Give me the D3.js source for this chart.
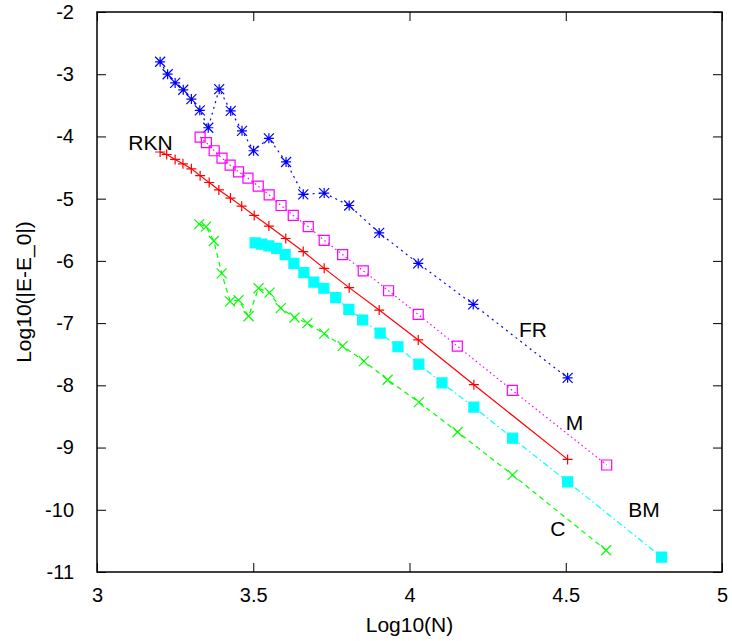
<!DOCTYPE html>
<html>
<head>
<meta charset="utf-8">
<script src="https://cdn.jsdelivr.net/npm/d3@7"></script>
<style>
    body { margin: 0; background: white; }
    text { font-family: "Liberation Sans", Arial, sans-serif; fill: black; }
</style>
</head>
<body>
<div id="canvas"></div>
<script>

// Data: [log10(N), log10(|E-E_0|)]
const frData = [
    [3.202, -2.80], [3.226, -3.00], [3.250, -3.14], [3.276, -3.25], [3.302, -3.40],
    [3.329, -3.58], [3.356, -3.86], [3.391, -3.24], [3.428, -3.59], [3.464, -3.91],
    [3.501, -4.23], [3.550, -4.03], [3.605, -4.41], [3.660, -4.93], [3.727, -4.91],
    [3.807, -5.11], [3.903, -5.55], [4.028, -6.04], [4.204, -6.70], [4.506, -7.88]
]
const mData = [
    [3.330, -4.01], [3.350, -4.10], [3.375, -4.23], [3.400, -4.35], [3.426, -4.46],
    [3.453, -4.57], [3.483, -4.67], [3.516, -4.80], [3.551, -4.94], [3.589, -5.11],
    [3.628, -5.27], [3.676, -5.45], [3.727, -5.67], [3.786, -5.90], [3.852, -6.16],
    [3.933, -6.48], [4.028, -6.86], [4.153, -7.37], [4.329, -8.08], [4.631, -9.28]
]
const rknData = [
    [3.202, -4.25], [3.223, -4.29], [3.250, -4.37], [3.275, -4.44], [3.302, -4.52],
    [3.330, -4.63], [3.359, -4.74], [3.390, -4.86], [3.427, -4.99], [3.463, -5.12],
    [3.503, -5.27], [3.550, -5.44], [3.604, -5.64], [3.660, -5.85], [3.727, -6.12],
    [3.807, -6.43], [3.903, -6.79], [4.028, -7.27], [4.206, -7.99], [4.506, -9.19]
]
const bmData = [
    [3.506, -5.71], [3.527, -5.73], [3.550, -5.76], [3.575, -5.80], [3.602, -5.90],
    [3.630, -6.04], [3.662, -6.19], [3.694, -6.34], [3.726, -6.44], [3.764, -6.59],
    [3.806, -6.78], [3.850, -6.95], [3.906, -7.16], [3.963, -7.38], [4.030, -7.66],
    [4.104, -7.96], [4.206, -8.35], [4.330, -8.85], [4.506, -9.55], [4.807, -10.76]
]
const cData = [
    [3.327, -5.41], [3.349, -5.45], [3.374, -5.68], [3.399, -6.20], [3.426, -6.65],
    [3.453, -6.63], [3.485, -6.89], [3.517, -6.44], [3.552, -6.51], [3.588, -6.76],
    [3.632, -6.91], [3.673, -7.00], [3.727, -7.17], [3.786, -7.37], [3.854, -7.61],
    [3.930, -7.91], [4.030, -8.27], [4.154, -8.75], [4.330, -9.44], [4.629, -10.65]
]

const xTicks = [3, 3.5, 4, 4.5, 5]
const yTicks = [-2, -3, -4, -5, -6, -7, -8, -9, -10, -11]

// series labels, placed in data coordinates
const labelNames = ['RKN', 'FR', 'M', 'BM', 'C']
const labelPos = [[3.1, -4.1], [4.35, -7.1], [4.5, -8.6], [4.7, -10.0], [4.45, -10.3]]

// Constants
const width = 732;
const height = 641;
const margin = { left: 97, top: 12, right: 10, bottom: 69 };
const plotW = width - margin.left - margin.right;
const plotH = height - margin.top - margin.bottom;
const tickLen = 9;

const xScale = d3.scaleLinear().domain([3, 5]).range([0, plotW])
const yScale = d3.scaleLinear().domain([-11, -2]).range([plotH, 0])

const svg = d3.select('#canvas')
    .append('svg').attr('width', width).attr('height', height);

const g = svg.append('g')
    .attr('transform', `translate(${margin.left},${margin.top})`)

// plain hyphen minus like gnuplot, not the unicode minus d3 uses
const plain = d => String(d)

// Axes - gnuplot style, ticks pointing inwards on all four sides
const xAxisBottom = d3.axisBottom(xScale).tickValues(xTicks).tickSizeInner(-tickLen).tickSizeOuter(0).tickPadding(16)
    .tickFormat(plain)
const xAxisTop = d3.axisTop(xScale).tickValues(xTicks).tickSizeInner(-tickLen).tickSizeOuter(0).tickFormat('')
const yAxisLeft = d3.axisLeft(yScale).tickValues(yTicks).tickSizeInner(-tickLen).tickSizeOuter(0).tickPadding(23)
    .tickFormat(plain)
const yAxisRight = d3.axisRight(yScale).tickValues(yTicks).tickSizeInner(-tickLen).tickSizeOuter(0).tickFormat('')

g.append('g').attr('transform', `translate(0,${plotH})`).call(xAxisBottom)
g.append('g').call(xAxisTop)
g.append('g').call(yAxisLeft)
g.append('g').attr('transform', `translate(${plotW},0)`).call(yAxisRight)

g.selectAll('.domain').remove()
g.selectAll('.tick line').attr('stroke', 'black').attr('stroke-width', 1)
g.selectAll('.tick text')
    .attr('font-size', '20px')
    .attr('font-family', '"Liberation Sans", Arial, sans-serif')
    .attr('fill', 'black')

// frame
g.append('rect')
    .attr('width', plotW).attr('height', plotH)
    .attr('fill', 'none').attr('stroke', 'black').attr('stroke-width', 1.5)

// axis titles
svg.append('text')
    .text('Log10(N)')
    .attr('x', margin.left + plotW / 2)
    .attr('y', 632)
    .attr('text-anchor', 'middle')
    .attr('font-size', '21px')
svg.append('text')
    .text('Log10(|E-E_0|)')
    .attr('transform', `translate(31,${margin.top + plotH / 2}) rotate(-90)`)
    .attr('text-anchor', 'middle')
    .attr('font-size', '21px')

const Gen = d3.line()
    .x(d => xScale(d[0]))
    .y(d => yScale(d[1]))

const series = [
    { data: frData, color: '#0000ff', dash: '2,4', point: 'star' },
    { data: mData, color: '#ff00ff', dash: '1.5,3', point: 'square' },
    { data: rknData, color: '#ff0000', dash: null, point: 'plus' },
    { data: bmData, color: '#00ffff', dash: '6,3,1.5,3', point: 'fillsquare' },
    { data: cData, color: '#00ff00', dash: '5,4', point: 'cross' }
]

const s = 5 // half size of point symbols
const pointPath = {
    plus: `M${-s},0H${s}M0,${-s}V${s}`,
    cross: `M${-s},${-s}L${s},${s}M${-s},${s}L${s},${-s}`,
    star: `M${-s},0H${s}M0,${-s}V${s}M${-s},${-s}L${s},${s}M${-s},${s}L${s},${-s}`,
    square: `M${-s},${-s}H${s}V${s}H${-s}Z`,
    fillsquare: `M${-s},${-s}H${s}V${s}H${-s}Z`
}

series.forEach(sr => {
    g.append('path')
        .datum(sr.data)
        .attr('d', Gen)
        .attr('fill', 'none')
        .attr('stroke', sr.color)
        .attr('stroke-width', 1.2)
        .attr('stroke-dasharray', sr.dash)

    g.selectAll(null)
        .data(sr.data)
        .enter()
        .append('path')
        .attr('d', pointPath[sr.point])
        .attr('transform', d => `translate(${xScale(d[0])},${yScale(d[1])})`)
        .attr('fill', sr.point === 'fillsquare' ? sr.color : 'none')
        .attr('stroke', sr.color)
        .attr('stroke-width', 1.2)
})

// labels
g.selectAll('.series-label')
    .data(labelNames)
    .enter()
    .append('text')
    .attr('class', 'series-label')
    .text(d => d)
    .attr('x', (d, i) => xScale(labelPos[i][0]))
    .attr('y', (d, i) => yScale(labelPos[i][1]))
    .attr('dominant-baseline', 'central')
    .attr('font-size', '21px')

</script>
</body>
</html>
